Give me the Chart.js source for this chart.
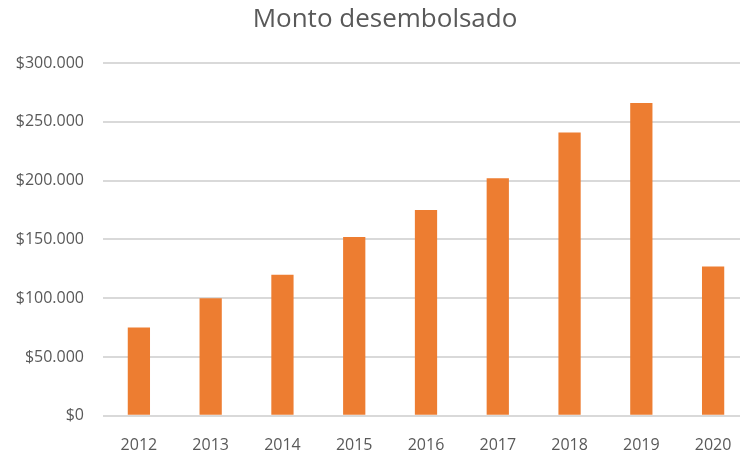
<!DOCTYPE html>
<html>
<head>
<meta charset="utf-8">
<script src="https://cdn.jsdelivr.net/npm/chart.js@4/dist/chart.umd.min.js"></script>
<style>
    html, body { margin: 0; padding: 0; background: #fff; overflow: hidden; }
    #wrap { position: relative; width: 770px; height: 469px; }
</style>
</head>
<body>
<div id="wrap"><canvas id="chart-monto"></canvas></div>
<script>
const YEARS = ["2012", "2013", "2014", "2015", "2016", "2017", "2018", "2019", "2020"];
const MONTO = [75000, 100000, 120000, 152000, 175000, 202000, 241000, 266000, 127000];
const Y_MAX = 300000;
const Y_STEP = 50000;
const TITLE = "Monto desembolsado";

const TEXT_COLOR = "#595959";
const BAR_COLOR = "#ed7d31";
const GRID_COLOR = "#d9d9d9";
const FONT = "'Open Sans', 'Noto Sans', sans-serif";

function money(v) {
    return "$" + String(v).replace(/\B(?=(\d{3})+(?!\d))/g, ".");
}

// title centred on the whole picture, like the spreadsheet chart
const centeredTitle = {
    id: "centeredTitle",
    afterDraw(chart) {
        const ctx = chart.ctx;
        ctx.save();
        ctx.font = `26px ${FONT}`;
        ctx.fillStyle = TEXT_COLOR;
        ctx.textAlign = "center";
        ctx.textBaseline = "middle";
        ctx.fillText(TITLE, 385, 20);
        ctx.restore();
    },
};

Chart.defaults.font.family = FONT;
Chart.defaults.color = TEXT_COLOR;

const canvas = document.getElementById("chart-monto");
new Chart(canvas, {
    type: "bar",
    data: {
        labels: YEARS,
        datasets: [
            {
                label: TITLE,
                data: MONTO,
                backgroundColor: BAR_COLOR,
                barPercentage: 0.31,
                categoryPercentage: 1,
            },
        ],
    },
    options: {
        responsive: true,
        maintainAspectRatio: false,
        animation: false,
        layout: { padding: { top: 63, right: 21, bottom: 2, left: 0 } },
        plugins: {
            legend: { display: false },
            tooltip: { enabled: false },
            title: { display: false },
        },
        scales: {
            x: {
                grid: { display: false },
                border: { display: false },
                ticks: { font: { size: 16 }, padding: 12 },
            },
            y: {
                min: 0,
                max: Y_MAX,
                afterFit: (scale) => { scale.width = 103; },
                grid: { color: GRID_COLOR, lineWidth: 2, drawTicks: false },
                border: { display: false },
                ticks: {
                    stepSize: Y_STEP,
                    padding: 19,
                    font: { size: 16 },
                    callback: (v) => money(v),
                },
            },
        },
    },
    plugins: [centeredTitle],
});
</script>
</body>
</html>
